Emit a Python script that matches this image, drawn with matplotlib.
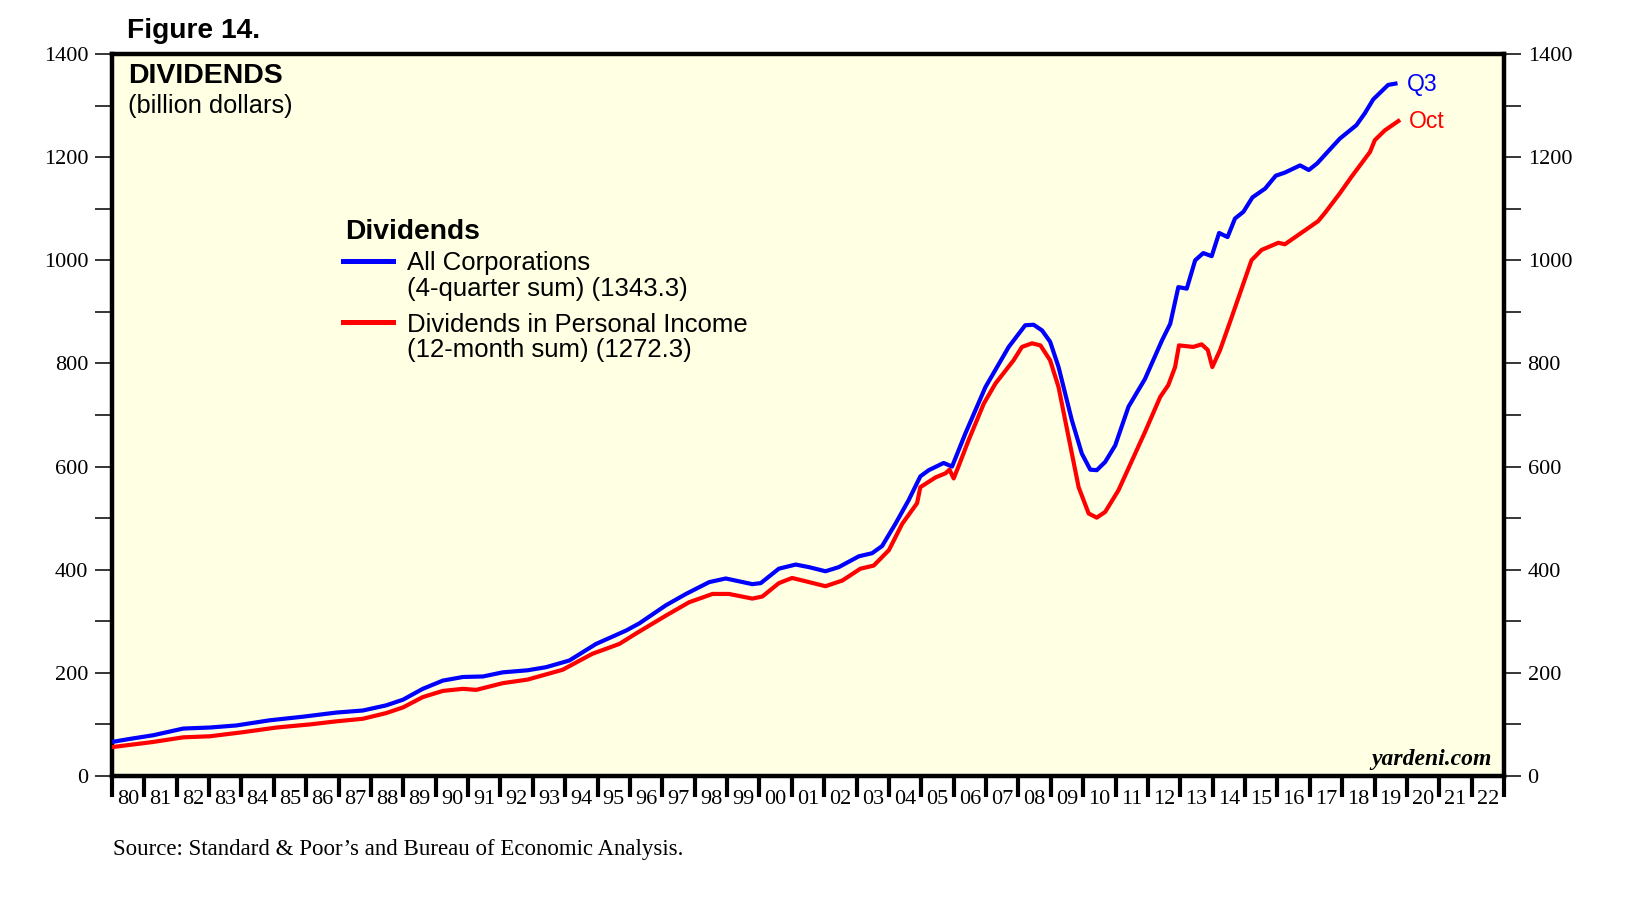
import numpy as np
import matplotlib.pyplot as plt
from matplotlib.lines import Line2D

# --- data (decimal year, billion $) ---
corp_dates = [1980.0, 1980.56, 1981.27, 1982.2, 1983.02, 1983.84, 1984.87, 1985.9,
              1986.93, 1987.75, 1988.47, 1988.99, 1989.6, 1990.22, 1990.84, 1991.46,
              1992.07, 1992.84, 1993.41, 1994.13, 1994.95, 1995.88, 1996.29, 1997.11,
              1997.73, 1998.45, 1998.96, 1999.78, 2000.04, 2000.6, 2001.12, 2001.53,
              2002.04, 2002.45, 2003.07, 2003.48, 2003.79, 2004.2, 2004.61, 2004.97,
              2005.23, 2005.69, 2005.95, 2006.36, 2006.98, 2007.7, 2008.21, 2008.47,
              2008.73, 2008.98, 2009.24, 2009.65, 2009.96, 2010.22, 2010.42, 2010.68,
              2010.99, 2011.4, 2011.91, 2012.43, 2012.69, 2012.94, 2013.2, 2013.46,
              2013.71, 2013.97, 2014.2, 2014.46, 2014.69, 2014.95, 2015.23, 2015.62,
              2015.95, 2016.23, 2016.7, 2016.97, 2017.23, 2017.52, 2017.93, 2018.44,
              2018.7, 2018.96, 2019.42, 2019.71]
corp_vals = [66, 72, 79, 92, 94, 98, 108, 115,
             123, 127, 137, 148, 169, 185, 192, 193,
             201, 205, 211, 224, 256, 282, 296, 331,
             353, 376, 383, 372, 374, 402, 410, 405,
             397, 405, 426, 432, 446, 489, 535, 581,
             593, 607, 600, 664, 754, 832, 874, 875,
             864, 842, 793, 690, 625, 594, 593, 609,
             641, 716, 770, 844, 877, 948, 945, 1000,
             1014, 1008, 1053, 1045, 1081, 1094, 1122, 1139,
             1164, 1170, 1184, 1175, 1188, 1208, 1236, 1262,
             1285, 1312, 1340, 1343.3]

pi_dates = [1980.0, 1981.27, 1982.2, 1983.02, 1984.05, 1985.08, 1986.11, 1986.93,
            1987.75, 1988.47, 1988.99, 1989.6, 1990.22, 1990.84, 1991.25, 1992.07,
            1992.84, 1993.92, 1994.84, 1995.67, 1996.18, 1997.11, 1997.83, 1998.55,
            1999.06, 1999.78, 2000.09, 2000.6, 2001.01, 2001.53, 2002.04, 2002.56,
            2003.12, 2003.53, 2004.0, 2004.41, 2004.87, 2004.97, 2005.44, 2005.75,
            2005.87, 2006.0, 2006.16, 2006.46, 2006.93, 2007.29, 2007.85, 2008.11,
            2008.42, 2008.68, 2008.98, 2009.24, 2009.55, 2009.86, 2010.17, 2010.42,
            2010.68, 2011.09, 2011.91, 2012.38, 2012.63, 2012.84, 2012.96, 2013.4,
            2013.66, 2013.85, 2013.99, 2014.23, 2014.59, 2014.95, 2015.2, 2015.51,
            2016.03, 2016.23, 2016.85, 2017.26, 2017.47, 2017.93, 2018.29, 2018.86,
            2019.01, 2019.32, 2019.79]
pi_vals = [56, 66, 75, 77, 85, 94, 100, 106,
           111, 122, 133, 153, 165, 169, 167, 180,
           187, 206, 237, 256, 276, 311, 337, 353,
           353, 344, 348, 374, 384, 376, 368, 379,
           402, 408, 438, 489, 529, 560, 579, 587,
           594, 577, 602, 651, 722, 761, 806, 832,
           839, 835, 806, 754, 657, 560, 509, 501,
           512, 554, 667, 735, 758, 793, 835, 832,
           837, 826, 793, 826, 890, 955, 1000, 1020,
           1034, 1031, 1058, 1076, 1092, 1130, 1162, 1210,
           1233, 1252, 1272.3]

year_labels = [f"{y % 100:02d}" for y in range(1980, 2023)]

W, H = 1639, 916
BG = '#ffffe3'
SANS = 'Liberation Sans'
SERIF = 'Liberation Serif'

fig = plt.figure(figsize=(W / 100, H / 100), dpi=100)
ax = fig.add_axes([112 / W, 1 - 776 / H, (1504 - 112) / W, (776 - 54) / H])
ax.set_facecolor(BG)

ax.plot(pi_dates, pi_vals, color='#ff0000', lw=3, solid_capstyle='butt', zorder=3)
ax.plot(corp_dates, corp_vals, color='#0000ff', lw=3, solid_capstyle='butt', zorder=4)

ax.set_xlim(1980, 2023)
ax.set_ylim(0, 1400)

for s in ax.spines.values():
    s.set_linewidth(3.2)

# x axis: thick year ticks, labels centred between them
ax.set_xticks(np.arange(1980, 2024))
ax.set_xticklabels([])
ax.set_xticks(np.arange(1980, 2023) + 0.5, minor=True)
ax.set_xticklabels(year_labels, minor=True, fontfamily=SERIF, fontsize=16)
ax.tick_params(axis='x', which='major', direction='out', length=15, width=3)
ax.tick_params(axis='x', which='minor', length=0, pad=10)

# y axis both sides
ax.set_yticks(np.arange(0, 1401, 200))
ax.set_yticks(np.arange(100, 1400, 200), minor=True)
ax.tick_params(axis='y', which='both', direction='out', length=12, width=1.1,
               left=True, right=True, labelleft=True, labelright=True, pad=5)
for lab in ax.get_yticklabels():
    lab.set_fontfamily(SERIF)
    lab.set_fontsize(16)


def ftext(x, y, s, **kw):
    fig.text(x / W, 1 - y / H, s, **kw)


ftext(127, 38, "Figure 14.", fontfamily=SANS, fontweight='bold', fontsize=20.3, va='baseline')
ftext(128, 83, "DIVIDENDS", fontfamily=SANS, fontweight='bold', fontsize=20.5, va='baseline')
ftext(128, 113, "(billion dollars)", fontfamily=SANS, fontsize=18.3, va='baseline')

# legend block
ftext(345, 239, "Dividends", fontfamily=SANS, fontweight='bold', fontsize=20.3, va='baseline')
fig.add_artist(Line2D([343 / W, 393 / W], [1 - 261 / H, 1 - 261 / H], color='#0000ff', lw=3.6))
ftext(407, 270, "All Corporations", fontfamily=SANS, fontsize=18.5, va='baseline')
ftext(407, 296, "(4-quarter sum) (1343.3)", fontfamily=SANS, fontsize=18.5, va='baseline')
fig.add_artist(Line2D([343 / W, 393 / W], [1 - 322 / H, 1 - 322 / H], color='#ff0000', lw=3.6))
ftext(407, 332, "Dividends in Personal Income", fontfamily=SANS, fontsize=18.5, va='baseline')
ftext(407, 357, "(12-month sum) (1272.3)", fontfamily=SANS, fontsize=18.5, va='baseline')

ftext(1407, 85, "Q3", fontfamily=SANS, fontsize=16.5, color='#0000ff', va='center')
ftext(1409, 121, "Oct", fontfamily=SANS, fontsize=16.5, color='#ff0000', va='center')

ftext(1492, 765, "yardeni.com", fontfamily=SERIF, fontweight='bold', fontstyle='italic',
      fontsize=17, ha='right', va='baseline')
ftext(113, 849, "Source: Standard & Poor\u2019s and Bureau of Economic Analysis.",
      fontfamily=SERIF, fontsize=16.5, va='center')

fig.savefig('out.png', dpi=100, facecolor='white')
